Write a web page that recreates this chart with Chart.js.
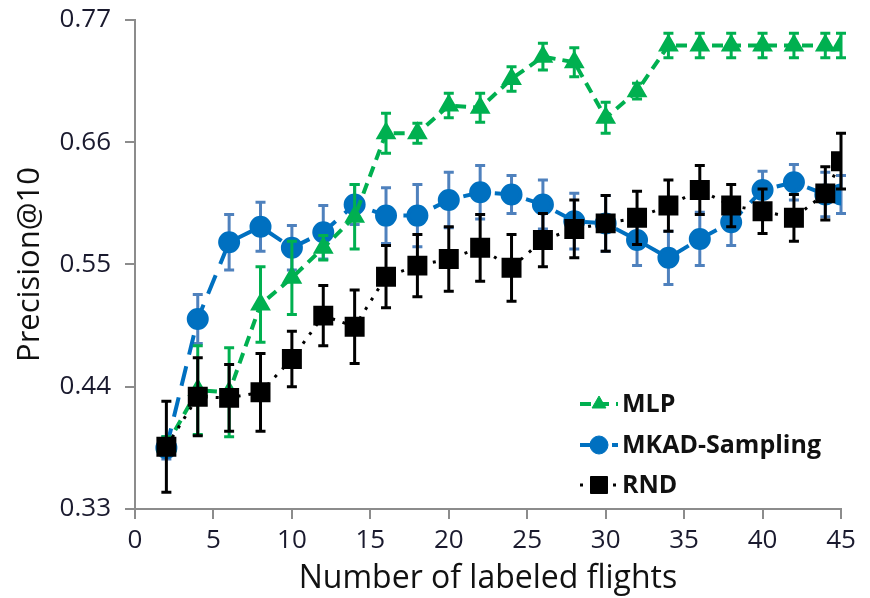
<!DOCTYPE html>
<html>
<head>
<meta charset="utf-8">
<script src="https://cdn.jsdelivr.net/npm/chart.js@4/dist/chart.umd.min.js"></script>
<style>
  html, body { margin: 0; padding: 0; background: #fff; }
  #wrap { width: 870px; height: 598px; }
</style>
</head>
<body>
<div id="wrap"><canvas id="myChart" width="870" height="598"></canvas></div>
<script>
// number of labeled flights
var flights = [2, 4, 6, 8, 10, 12, 14, 16, 18, 20, 22, 24, 26, 28, 30, 32, 34, 36, 38, 40, 42, 44, 45];

var mlpMean = [0.387, 0.437, 0.435, 0.514, 0.538, 0.565, 0.593, 0.668, 0.668, 0.693, 0.691, 0.717, 0.737, 0.732, 0.682, 0.706, 0.747, 0.747, 0.747, 0.747, 0.747, 0.747, 0.747];
var mlpErr  = [0.008, 0.040, 0.040, 0.034, 0.033, 0.011, 0.029, 0.018, 0.009, 0.011, 0.013, 0.011, 0.012, 0.013, 0.014, 0.007, 0.011, 0.011, 0.011, 0.011, 0.011, 0.011, 0.011];

var mkadMean = [0.385, 0.501, 0.570, 0.584, 0.565, 0.579, 0.604, 0.594, 0.594, 0.608, 0.615, 0.613, 0.604, 0.589, 0.587, 0.572, 0.556, 0.573, 0.588, 0.617, 0.624, 0.613, 0.613];
var mkadErr  = [0.010, 0.022, 0.025, 0.022, 0.020, 0.024, 0.018, 0.025, 0.028, 0.025, 0.024, 0.017, 0.022, 0.025, 0.025, 0.023, 0.024, 0.024, 0.021, 0.017, 0.016, 0.020, 0.017];

var rndMean = [0.386, 0.431, 0.430, 0.435, 0.465, 0.504, 0.494, 0.539, 0.549, 0.555, 0.565, 0.547, 0.572, 0.582, 0.587, 0.592, 0.603, 0.617, 0.603, 0.598, 0.592, 0.614, 0.643];
var rndErr  = [0.041, 0.035, 0.030, 0.035, 0.025, 0.027, 0.033, 0.028, 0.028, 0.029, 0.030, 0.030, 0.024, 0.026, 0.025, 0.024, 0.023, 0.022, 0.019, 0.020, 0.021, 0.024, 0.025];

var yTicks = [0.33, 0.44, 0.55, 0.66, 0.77];
var xTicks = [0, 5, 10, 15, 20, 25, 30, 35, 40, 45];

var fontFam = "'Open Sans', Lato, sans-serif";

function puntos(valores) {
    var res = [];
    for (var i = 0; i < flights.length; i++) {
        res.push({ x: flights[i], y: valores[i] });
    }
    return res;
}

// error bars, drawn under each dataset
var barrasError = {
    id: 'barrasError',
    beforeDatasetDraw: function (chart, args) {
        var ds = chart.data.datasets[args.index];
        if (!ds.errores) return;
        var ctx = chart.ctx;
        var xs = chart.scales.x, ys = chart.scales.y;
        ctx.save();
        ctx.strokeStyle = ds.colorError;
        ctx.lineWidth = 3;
        ctx.setLineDash([]);
        for (var i = 0; i < flights.length; i++) {
            var px = xs.getPixelForValue(flights[i]);
            var y1 = ys.getPixelForValue(ds.data[i].y + ds.errores[i]);
            var y2 = ys.getPixelForValue(ds.data[i].y - ds.errores[i]);
            ctx.beginPath();
            ctx.moveTo(px, y1); ctx.lineTo(px, y2);
            ctx.moveTo(px - 5, y1); ctx.lineTo(px + 5, y1);
            ctx.moveTo(px - 5, y2); ctx.lineTo(px + 5, y2);
            ctx.stroke();
        }
        ctx.restore();
    }
};

// legend inside the plot, lower right
var leyenda = {
    id: 'leyenda',
    afterDraw: function (chart) {
        var ctx = chart.ctx;
        var ys = [404, 445, 485];
        ctx.save();
        chart.data.datasets.forEach(function (ds, n) {
            var y = ys[n];
            ctx.strokeStyle = ds.borderColor;
            ctx.lineWidth = ds.borderWidth;
            ctx.setLineDash(ds.borderDash);
            ctx.beginPath();
            ctx.moveTo(580, y); ctx.lineTo(618, y);
            ctx.stroke();
            ctx.setLineDash([]);
            ctx.fillStyle = ds.pointBackgroundColor;
            ctx.strokeStyle = ds.pointBackgroundColor;
            ctx.lineWidth = 1;
            Chart.helpers.drawPoint(ctx, { pointStyle: ds.pointStyle, radius: ds.pointRadius, rotation: 0, borderWidth: 1 }, 599, y);
            ctx.fillStyle = '#111';
            ctx.font = "bold 25px " + fontFam;
            ctx.textBaseline = 'middle';
            ctx.textAlign = 'left';
            ctx.fillText(ds.label, 622, y + 1);
        });
        ctx.restore();
    }
};

var ctx = document.getElementById('myChart');
var grafico = new Chart(ctx, {
    type: 'line',
    data: {
        datasets: [{
            label: 'MLP',
            data: puntos(mlpMean),
            errores: mlpErr,
            colorError: '#00b050',
            borderColor: '#00b050',
            pointBackgroundColor: '#00b050',
            pointBorderColor: '#00b050',
            borderWidth: 4,
            borderDash: [11, 7],
            pointStyle: 'triangle',
            pointRadius: 8,
            order: 2
        }, {
            label: 'MKAD-Sampling',
            data: puntos(mkadMean),
            errores: mkadErr,
            colorError: '#4f81bd',
            borderColor: '#0070c0',
            pointBackgroundColor: '#0070c0',
            pointBorderColor: '#0070c0',
            borderWidth: 4,
            borderDash: [20, 12],
            pointStyle: 'circle',
            pointRadius: 9,
            order: 3
        }, {
            label: 'RND',
            data: puntos(rndMean),
            errores: rndErr,
            colorError: '#000000',
            borderColor: '#000000',
            pointBackgroundColor: '#000000',
            pointBorderColor: '#000000',
            borderWidth: 3,
            borderDash: [3, 8],
            pointStyle: 'rect',
            pointRadius: 12,
            order: 1
        }]
    },
    options: {
        responsive: false,
        animation: false,
        layout: { padding: { left: 12, right: 29, top: 20, bottom: 0 } },
        plugins: {
            legend: { display: false },
            tooltip: { enabled: false }
        },
        scales: {
            x: {
                type: 'linear',
                min: 0,
                max: 45,
                afterBuildTicks: function (s) { s.ticks = xTicks.map(function (v) { return { value: v }; }); },
                afterFit: function (s) { s.height = 89; s.paddingLeft = 0; s.paddingRight = 0; },
                grid: { drawOnChartArea: false, drawTicks: true, tickLength: 10, color: '#8c8c8c', lineWidth: 2 },
                border: { display: true, color: '#8c8c8c', width: 2 },
                ticks: { color: '#1a1a2e', font: { family: fontFam, size: 26 }, padding: 6, maxRotation: 0 },
                title: { display: true, text: 'Number of labeled flights', color: '#111', font: { family: fontFam, size: 32 }, padding: { top: 0, bottom: 0 } }
            },
            y: {
                min: 0.33,
                max: 0.77,
                afterBuildTicks: function (s) { s.ticks = yTicks.map(function (v) { return { value: v }; }); },
                afterFit: function (s) { s.width = 123; s.paddingTop = 0; s.paddingBottom = 0; },
                grid: { drawOnChartArea: false, drawTicks: true, tickLength: 10, color: '#8c8c8c', lineWidth: 2 },
                border: { display: true, color: '#8c8c8c', width: 2 },
                ticks: {
                    color: '#1a1a2e',
                    font: { family: fontFam, size: 26 },
                    padding: 14,
                    callback: function (v) { return v.toFixed(2); }
                },
                title: { display: true, text: 'Precision@10', color: '#111', font: { family: fontFam, size: 31 }, padding: { top: 0, bottom: 0 } }
            }
        }
    },
    plugins: [barrasError, leyenda]
});
</script>
</body>
</html>
